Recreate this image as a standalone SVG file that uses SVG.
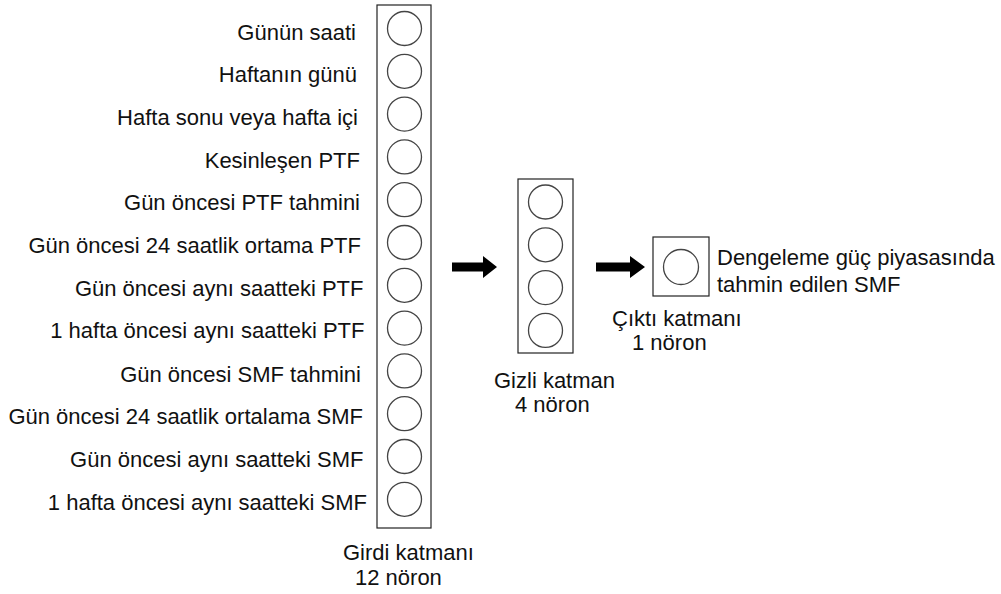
<svg xmlns="http://www.w3.org/2000/svg" width="1001" height="594" viewBox="0 0 1001 594">
<style>
text{font-family:"Liberation Sans",Arial,sans-serif;font-size:22px;fill:#111}
.in{text-anchor:end}
.box{fill:#fff;stroke:#222;stroke-width:1.2}
.neu{fill:#fff;stroke:#444;stroke-width:1.3}
.arr{fill:#000}
</style>
<rect width="1001" height="594" fill="#fff"/>
<g id="input-layer">
<rect class="box" x="377" y="5" width="54" height="523"/>
<circle class="neu" cx="404.5" cy="28.5" r="17"/>
<circle class="neu" cx="404.5" cy="71.3" r="17"/>
<circle class="neu" cx="404.5" cy="114.1" r="17"/>
<circle class="neu" cx="404.5" cy="156.9" r="17"/>
<circle class="neu" cx="404.5" cy="199.7" r="17"/>
<circle class="neu" cx="404.5" cy="242.5" r="17"/>
<circle class="neu" cx="404.5" cy="285.3" r="17"/>
<circle class="neu" cx="404.5" cy="328.1" r="17"/>
<circle class="neu" cx="404.5" cy="370.9" r="17"/>
<circle class="neu" cx="404.5" cy="413.7" r="17"/>
<circle class="neu" cx="404.5" cy="456.5" r="17"/>
<circle class="neu" cx="404.5" cy="499.3" r="17"/>
<text class="in" x="356" y="39.5">Günün saati</text>
<text class="in" x="357" y="82">Haftanın günü</text>
<text class="in" x="358" y="124.8">Hafta sonu veya hafta içi</text>
<text class="in" x="360" y="167.6">Kesinleşen PTF</text>
<text class="in" x="360" y="210.4">Gün öncesi PTF tahmini</text>
<text class="in" x="361" y="253">Gün öncesi 24 saatlik ortama PTF</text>
<text class="in" x="363.5" y="296">Gün öncesi aynı saatteki PTF</text>
<text class="in" x="364.5" y="338">1 hafta öncesi aynı saatteki PTF</text>
<text class="in" x="361" y="381.6">Gün öncesi SMF tahmini</text>
<text class="in" x="363" y="424.4">Gün öncesi 24 saatlik ortalama SMF</text>
<text class="in" x="363.5" y="467.2">Gün öncesi aynı saatteki SMF</text>
<text class="in" x="367" y="510">1 hafta öncesi aynı saatteki SMF</text>
<text x="343" y="560">Girdi katmanı</text>
<text x="355" y="585">12 nöron</text>
</g>
<g id="hidden-layer">
<rect class="box" x="518" y="179" width="55" height="174"/>
<circle class="neu" cx="545.5" cy="202" r="17"/>
<circle class="neu" cx="545.5" cy="244.8" r="17"/>
<circle class="neu" cx="545.5" cy="287.6" r="17"/>
<circle class="neu" cx="545.5" cy="330.4" r="17"/>
<text x="494" y="388">Gizli katman</text>
<text x="515" y="412">4 nöron</text>
</g>
<g id="output-layer">
<rect class="box" x="653" y="237" width="56" height="59"/>
<circle class="neu" cx="681" cy="267" r="17.5"/>
<text x="717" y="265">Dengeleme güç piyasasında</text>
<text x="717" y="292">tahmin edilen SMF</text>
<text x="612" y="326">Çıktı katmanı</text>
<text x="632" y="350">1 nöron</text>
</g>
<g id="connectors">
<polygon class="arr" points="452,262.5 483,262.5 483,256 497,267 483,278 483,271.5 452,271.5"/>
<polygon class="arr" points="596,262.5 630,262.5 630,256 645,267 630,278 630,271.5 596,271.5"/>
</g>
</svg>
